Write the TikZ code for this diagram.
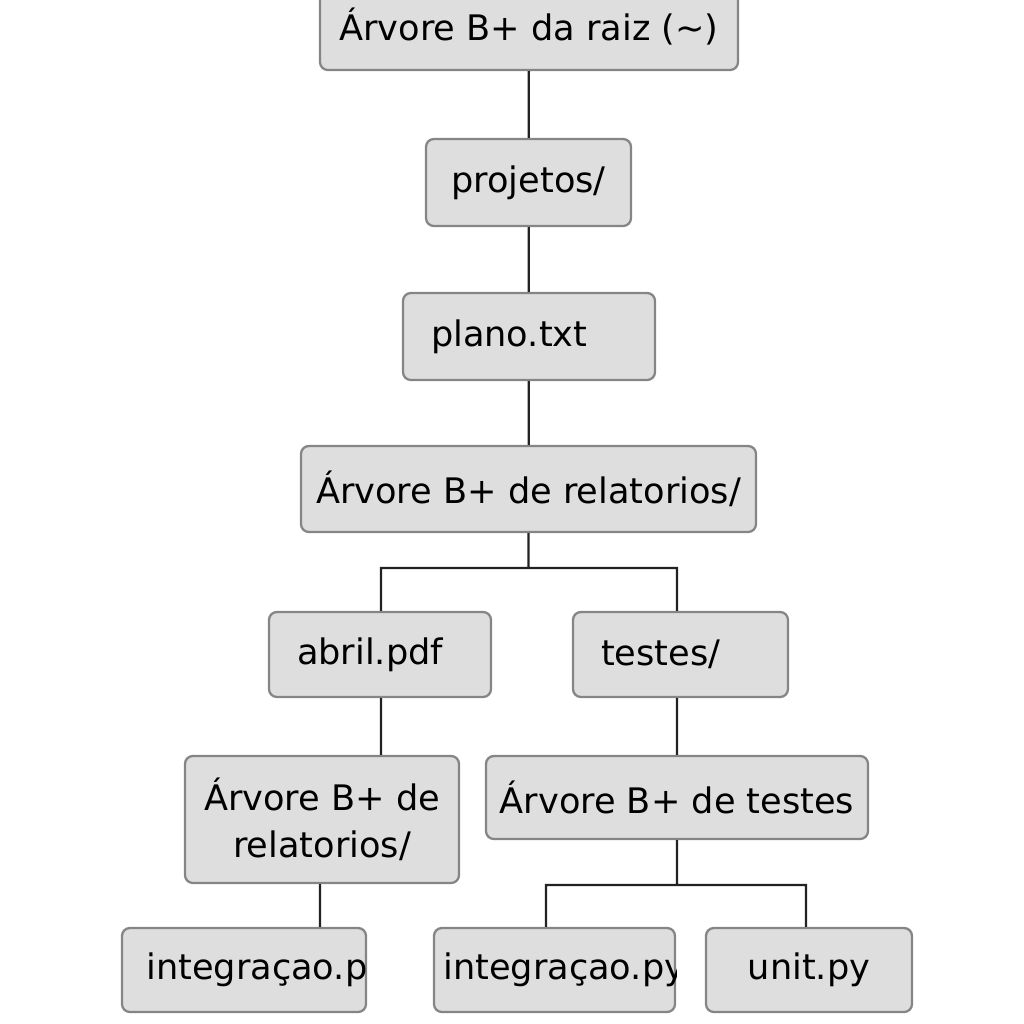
\documentclass[tikz,border=0pt]{standalone}
\usepackage{fontspec}
\setmainfont{DejaVu Sans}
\usetikzlibrary{positioning, calc}
\definecolor{caixafill}{HTML}{DEDEDE}
\definecolor{caixaborda}{HTML}{858585}
\definecolor{linha}{HTML}{222222}
\tikzset{
    every node/.style={font=\fontsize{20}{27}\selectfont}, % Texto grande
    caixa/.style={draw=caixaborda, fill=caixafill, line width=1.3pt,
        rounded corners=4.5pt, inner sep=0pt, minimum height=1.72cm},
    % Texto encostado a esquerda
    esq/.style 2 args={text width=#1, inner xsep=#2, align=left},
    ligacao/.style={draw=linha, line width=1.3pt},
}

\begin{document}
\begin{tikzpicture}
    \useasboundingbox (0,0) rectangle (20.48,-20.48);

    % --- Caixas ---
    % Raiz
    \node[caixa, minimum width=8.36cm] (raiz) at (10.58,-0.54) {Árvore B+ da raiz (\textasciitilde)};
    \node[caixa, minimum width=4.10cm, minimum height=1.74cm] (projetos) at (10.57,-3.65) {projetos/};
    \node[caixa, esq={3.92cm}{0.56cm}, minimum height=1.74cm] (plano) at (10.58,-6.73) {plano.txt};
    \node[caixa, minimum width=9.10cm] (rel) at (10.57,-9.78) {Árvore B+ de relatorios/};

    % Filhos de relatorios/
    \node[caixa, esq={3.32cm}{0.56cm}, minimum height=1.70cm] (abril) at (7.60,-13.09) {abril.pdf};
    \node[caixa, esq={3.18cm}{0.56cm}, minimum height=1.70cm] (testes) at (13.61,-13.09) {testes/};

    % Arvores de baixo
    \node[caixa, minimum width=5.48cm, minimum height=2.54cm, align=center] (relb) at (6.44,-16.39) {Árvore B+ de\\ relatorios/};
    \node[caixa, minimum width=7.64cm, minimum height=1.66cm] (btestes) at (13.54,-15.95) {Árvore B+ de testes};

    % Folhas
    \node[caixa, minimum width=4.88cm, minimum height=1.68cm] (intega) at (4.88,-19.40) {};
    \node[caixa, minimum width=4.82cm, minimum height=1.68cm] (integb) at (11.09,-19.40) {};
    \node[caixa, minimum width=4.12cm, minimum height=1.68cm] (unit) at (16.18,-19.40) {unit.py};

    % Nomes cortados pela borda
    \begin{scope}
        \clip (intega.south west) rectangle (intega.north east);
        \node[anchor=west, inner sep=0pt] (txta) at (2.92,-19.40) {integraçao.py};
    \end{scope}
    \begin{scope}
        \clip (integb.south west) rectangle (integb.north east);
        \node[anchor=west, inner sep=0pt] (txtb) at (8.86,-19.40) {integraçao.py};
    \end{scope}

    % --- Ligacoes ---
    \coordinate (j1) at (10.57,-11.36);
    \coordinate (j2) at (13.54,-17.70);
    \path[ligacao]
        (raiz) -- (projetos)
        (projetos) -- (plano)
        (plano) -- (rel)
        (rel) -- (j1)
        ([xshift=0.02cm]abril.north) |- (j1) -| ([xshift=-0.07cm]testes.north)
        ([xshift=0.02cm]abril.south) -- ([xshift=0.02cm]abril.south |- relb.north)
        ([xshift=-0.04cm]relb.south) -- ([xshift=-0.04cm]relb.south |- intega.north)
        (btestes.north |- testes.south) -- (btestes.north)
        (btestes.south) -- (j2)
        ([xshift=-0.17cm]integb.north) |- (j2) -| ([xshift=-0.06cm]unit.north);

\end{tikzpicture}
\end{document}
